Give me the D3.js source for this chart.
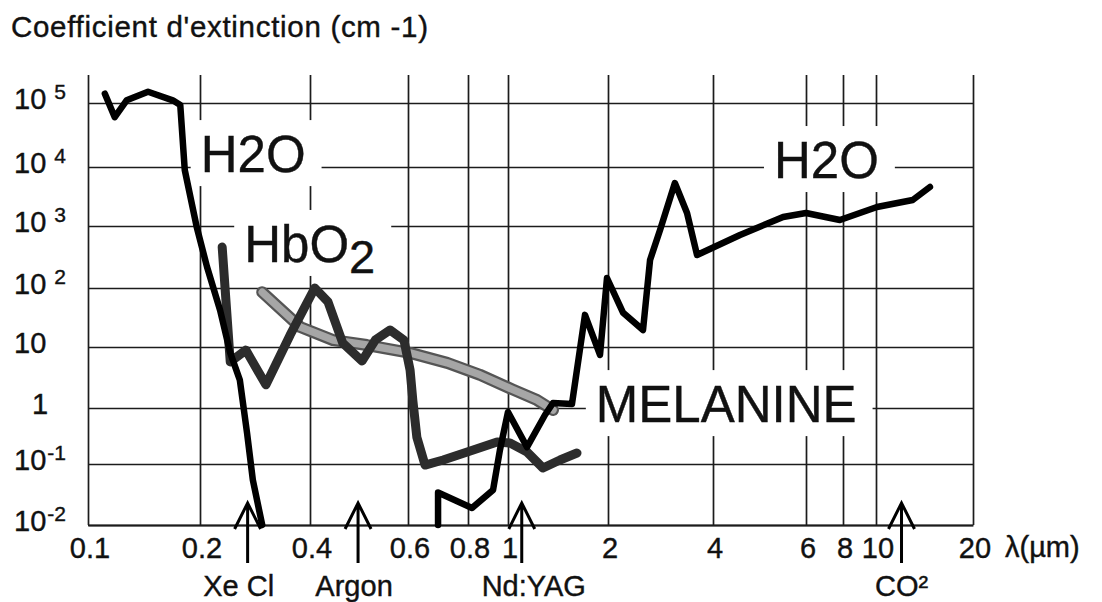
<!DOCTYPE html>
<html>
<head>
<meta charset="utf-8">
<script src="https://cdn.jsdelivr.net/npm/d3@7"></script>
<style>
body { margin: 0; background: #fff; }
svg { font-family: "Liberation Sans", Arial, Helvetica, sans-serif; }
svg text { fill: #111; stroke: #111; stroke-width: 0.4; }
.grid line { stroke: #1c1c1c; stroke-width: 1.7; }
.grid path { stroke: #1c1c1c; stroke-width: 2.2; }
.curve { fill: none; stroke-linejoin: round; stroke-linecap: round; }
</style>
</head>
<body>
<svg id="chart" width="1102" height="602"></svg>
<script>
// wavelength axis (µm)
var xTicks = [0.1, 0.2, 0.4, 0.6, 0.8, 1, 2, 4, 6, 8, 10, 20];
var xTickLabels = ["0.1", "0.2", "0.4", "0.6", "0.8", "1", "2", "4", "6", "8", "10", "20"];

// extinction axis (cm-1)
var yTicks = [1e-2, 1e-1, 1, 10, 1e2, 1e3, 1e4, 1e5];
var yTickBase = ["10", "10", "1", "10", "10", "10", "10", "10"];
var yTickExp = ["-2", "-1", "", "", "2", "3", "4", "5"];

// curves : [lambda µm, coefficient cm-1]
var waterUV = [[0.111, 1.4e5], [0.118, 6e4], [0.127, 1.1e5], [0.145, 1.5e5], [0.169, 1.1e5],
	[0.177, 9.3e4], [0.182, 8.9e3], [0.196, 960], [0.209, 220], [0.227, 42], [0.242, 8],
	[0.257, 2.9], [0.269, 0.36], [0.279, 0.055], [0.296, 0.01]];

var waterIR = [[0.693, 0.01], [0.693, 0.034], [0.818, 0.019], [0.92, 0.0375], [0.956, 0.178],
	[1.0, 0.85], [1.141, 0.2], [1.292, 0.75], [1.366, 1.21], [1.558, 1.16], [1.705, 35],
	[1.892, 7.4], [1.986, 145], [2.21, 38], [2.52, 19.4], [2.64, 283], [2.82, 860],
	[3.11, 5350], [3.37, 1660], [3.6, 340], [4.5, 716], [5.43, 1420], [6.0, 1660],
	[7.81, 1264], [10.07, 2100], [13.0, 2760], [14.7, 4580]];

var hbo2 = [[0.230, 458], [0.242, 5.7], [0.267, 8.9], [0.303, 2.4], [0.353, 16], [0.408, 100],
	[0.431, 58], [0.458, 11.7], [0.496, 5.9], [0.524, 13.1], [0.557, 19.4], [0.59, 13.1],
	[0.606, 4.2], [0.614, 1.35], [0.626, 0.30], [0.651, 0.096], [0.71, 0.118], [0.797, 0.164],
	[0.941, 0.247], [1.014, 0.237], [1.141, 0.164], [1.274, 0.086], [1.434, 0.118], [1.613, 0.157]];

var melanin = [[0.296, 85], [0.376, 21.8], [0.44, 13.1], [0.506, 10.8], [0.606, 8.0],
	[0.724, 5.5], [0.855, 3.5], [1.035, 2.0], [1.223, 1.35], [1.366, 0.92]];

// curve names placed in the plot
var labelText = ["H2O", "HbO", "H2O", "MELANINE"];
var labelSub = ["", "2", "", ""];
var labelLambda = [0.206, 0.271, 5.31, 1.89];
var labelValue = [8200, 263, 6500, 0.56];

// laser lines
var laserNames = ["Xe Cl", "Argon", "Nd:YAG", "CO²"];
var laserLambda = [0.27, 0.488, 1.1, 12];

var svg = d3.select("#chart"),
	margin = {top: 103, left: 88},
	width = 885,
	height = 422;

// the printed axes are not a clean log scale, so the scales are piecewise
var xPos = [0, 112, 222, 320, 380, 420, 520, 625, 718, 755, 788, 885];
var yPos = [422, 361, 305, 244, 185, 123, 64, 0];
// laser names sit a little off their arrows
var laserShift = [-9, -4, 12, 0];

var x = d3.scaleLog().domain(xTicks).range(xPos);
var y = d3.scaleLog().domain(yTicks).range(yPos);

svg.append("text")
	.attr("x", 11).attr("y", 37)
	.attr("font-size", 29.5)
	.attr("letter-spacing", 0.7)
	.text("Coefficient d'extinction (cm -1)");

var g = svg.append("g")
	.attr("transform", "translate(" + margin.left + "," + margin.top + ")");

// grid : vertical lines poke out above the top decade
var xAxis = d3.axisBottom(x)
	.tickValues(xTicks)
	.tickSizeInner(-(height + 28))
	.tickSizeOuter(0)
	.tickFormat("");
g.append("g")
	.attr("class", "grid")
	.attr("transform", "translate(0," + height + ")")
	.call(xAxis);

var yAxis = d3.axisLeft(y)
	.tickValues(yTicks)
	.tickSizeInner(-width)
	.tickSizeOuter(0)
	.tickFormat("");
var yg = g.append("g")
	.attr("class", "grid")
	.call(yAxis);
yg.select(".domain").remove();

// x tick labels
g.append("g").selectAll("text")
	.data(xTicks)
	.enter().append("text")
	.attr("x", function(d) { return x(d) + 2; })
	.attr("y", height + 33)
	.attr("text-anchor", "middle")
	.attr("font-size", 29)
	.text(function(d, i) { return xTickLabels[i]; });

g.append("text")
	.attr("x", width + 32)
	.attr("y", height + 32)
	.attr("font-size", 29)
	.text("λ(µm)");

// y tick labels with exponents
var yl = g.append("g").selectAll("text")
	.data(yTicks)
	.enter().append("text")
	.attr("x", function(d, i) { return yTickBase[i] == "1" ? -56 : -74; })
	.attr("y", function(d) { return y(d) + 6; })
	.attr("font-size", 29);
yl.append("tspan")
	.text(function(d, i) { return yTickBase[i]; });
yl.append("tspan")
	.attr("font-size", 21)
	.attr("dx", function(d, i) { return yTickExp[i].charAt(0) == "-" ? 1 : 8; })
	.attr("dy", -10)
	.text(function(d, i) { return yTickExp[i]; });

// curve names, with a white patch that cuts the grid behind them
var lab = g.append("g");
labelText.forEach(function(t, i) {
	var patch = lab.append("rect").attr("fill", "#fff");
	var txt = lab.append("text")
		.attr("x", x(labelLambda[i]) - 4)
		.attr("y", y(labelValue[i]))
		.attr("font-size", 51)
		.attr("stroke-width", 0.3)
		.text(t);
	if (labelSub[i]) {
		txt.append("tspan")
			.attr("font-size", 47)
			.attr("dy", 11)
			.text(labelSub[i]);
	}
	var bb = txt.node().getBBox();
	var base = y(labelValue[i]);
	patch.attr("x", bb.x - 10)
		.attr("y", base - 52)
		.attr("width", bb.width + 26)
		.attr("height", 66);
});

var line = d3.line()
	.x(function(d) { return x(d[0]); })
	.y(function(d) { return y(d[1]); });

// melanin : grey band with a dark rim
g.append("path").datum(melanin)
	.attr("class", "curve")
	.attr("stroke", "#555")
	.attr("stroke-width", 12)
	.attr("d", line);
g.append("path").datum(melanin)
	.attr("class", "curve")
	.attr("stroke", "#a6a6a6")
	.attr("stroke-width", 7.5)
	.attr("d", line);

g.append("path").datum(hbo2)
	.attr("class", "curve")
	.attr("stroke", "#2c2c2c")
	.attr("stroke-width", 9)
	.attr("d", line);

[waterUV, waterIR].forEach(function(c) {
	g.append("path").datum(c)
		.attr("class", "curve")
		.attr("stroke", "#000")
		.attr("stroke-width", 6.5)
		.attr("d", line);
});

// laser arrows under the axis
var las = g.append("g").selectAll("g")
	.data(laserLambda)
	.enter().append("g")
	.attr("transform", function(d) { return "translate(" + x(d) + "," + height + ")"; });
las.append("path")
	.attr("d", "M0,38V-22M-13,4L0,-22L13,4")
	.attr("fill", "none")
	.attr("stroke", "#000")
	.attr("stroke-width", 3);
las.append("text")
	.attr("x", function(d, i) { return laserShift[i]; })
	.attr("y", 71)
	.attr("text-anchor", "middle")
	.attr("font-size", 29)
	.text(function(d, i) { return laserNames[i]; });
</script>
</body>
</html>
